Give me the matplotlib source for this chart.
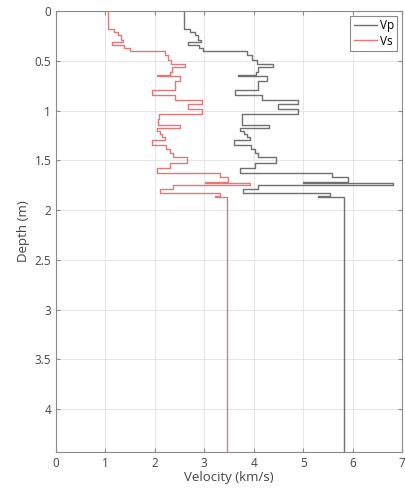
import numpy as np
import matplotlib
matplotlib.use('Agg')
from matplotlib import pyplot as plt

# layer tops (m), shear and compressional velocity (km/s)
layer_top = [0.00, 0.18, 0.21, 0.24, 0.29, 0.31, 0.34, 0.37, 0.40, 0.44,
             0.49, 0.53, 0.56, 0.61, 0.64, 0.655, 0.70, 0.79, 0.84, 0.89,
             0.93, 0.98, 1.03, 1.08, 1.15, 1.18, 1.21, 1.24, 1.27, 1.30,
             1.35, 1.39, 1.43, 1.47, 1.53, 1.58, 1.63, 1.665, 1.715, 1.73,
             1.75, 1.79, 1.83, 1.86, 1.87]
layer_bottom_end = 4.5
vs = [1.06, 1.17, 1.26, 1.32, 1.36, 1.14, 1.38, 1.50, 2.21, 2.27,
      2.32, 2.61, 2.35, 2.30, 2.04, 2.51, 2.41, 1.95, 2.41, 2.95,
      2.68, 2.95, 2.08, 2.06, 2.51, 2.04, 2.10, 2.14, 2.20, 1.94,
      2.22, 2.30, 2.37, 2.66, 2.30, 2.04, 3.32, 3.48, 3.01, 3.92,
      2.37, 2.10, 3.32, 3.22, 3.45]
vp = [2.59, 2.72, 2.82, 2.88, 2.93, 2.68, 2.90, 2.98, 3.86, 3.96,
      4.06, 4.40, 4.09, 4.05, 3.69, 4.26, 4.09, 3.62, 4.16, 4.90,
      4.50, 4.90, 3.76, 3.76, 4.30, 3.72, 3.80, 3.86, 3.92, 3.60,
      3.95, 4.02, 4.09, 4.46, 4.02, 3.72, 5.58, 5.91, 5.00, 6.82,
      4.09, 3.79, 5.54, 5.30, 5.82]

tops = np.array(layer_top)
bots = np.append(tops[1:], layer_bottom_end)
zz = np.column_stack([tops, bots]).ravel()

plt.rcParams['font.family'] = ['Open Sans', 'DejaVu Sans']
fig = plt.figure(figsize=(4.06, 5.0), dpi=100)
ax = fig.add_axes([0.138, 0.096, 0.852, 0.882])

ax.plot(np.repeat(vp, 2), zz, color='#707070', lw=1.0, label='Vp')
ax.plot(np.repeat(vs, 2), zz, color='#e07a7a', lw=1.0, label='Vs')

ax.set_xlim(0, 7)
ax.set_ylim(4.43, 0)
ax.set_xticks(np.arange(0, 8, 1))
ax.set_yticks(np.arange(0, 4.5, 0.5))
ax.set_yticklabels(['0', '0.5', '1', '1.5', '2', '2.5', '3', '3.5', '4'])
ax.grid(True, color='#e6e6e6', lw=0.7)
ax.set_axisbelow(True)
for s in ax.spines.values():
    s.set_color('#8a8a8a')
    s.set_linewidth(0.8)
ax.tick_params(direction='in', length=3, colors='#8a8a8a', labelcolor='#444444',
               labelsize=8.5, top=True, right=True)
ax.set_xlabel('Velocity (km/s)', fontsize=9.5, color='#444444', labelpad=1)
ax.set_ylabel('Depth (m)', fontsize=9.5, color='#444444', labelpad=3)

leg = ax.legend(loc='upper right', fontsize=8.5, handlelength=2.0, handletextpad=0.2,
                borderpad=0.3, labelspacing=0.2, fancybox=False, framealpha=1,
                borderaxespad=0.4)
leg.get_frame().set_edgecolor('#8a8a8a')
leg.get_frame().set_linewidth(0.8)

fig.savefig('out.png', dpi=100)
